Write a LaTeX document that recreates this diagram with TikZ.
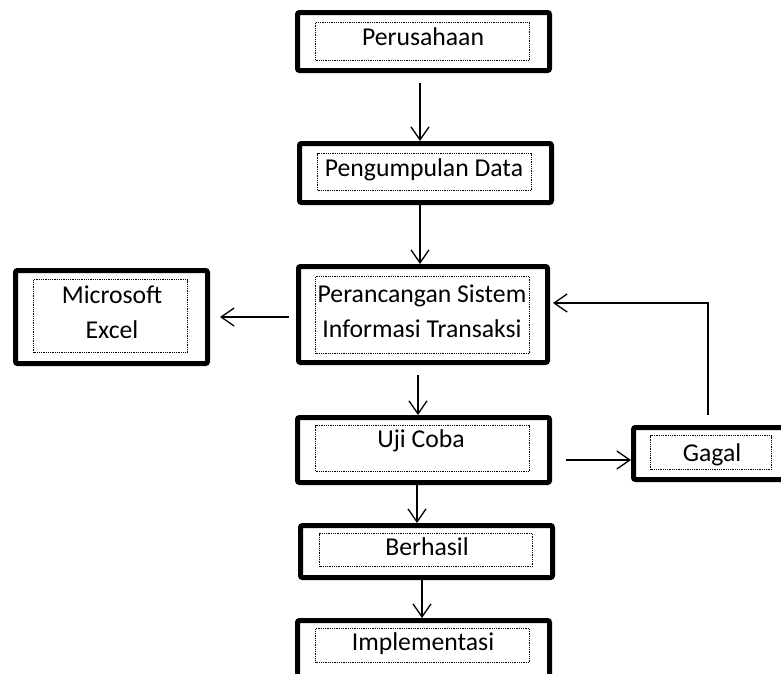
\documentclass[tikz,border=0pt]{standalone}
\usepackage{fontspec}
\setmainfont{Carlito}
\usetikzlibrary{arrows.meta,fit,calc}
\begin{document}
\begin{tikzpicture}[x=1pt,y=-1pt,
  outerbox/.style={draw=black, line width=5pt, rounded corners=2pt, inner sep=0pt},
  innerbox/.style={draw=black, line width=1.1pt, dash pattern=on 1pt off 0.8pt, inner sep=0pt},
  txt/.style={font=\fontsize{25.7}{35}\selectfont, anchor=base, inner sep=0pt, align=center, text=black},
  conn/.style={draw=black, line width=1.3pt, -{Straight Barb[length=13pt,width=18pt,line width=1.3pt]}}
]
\useasboundingbox (0,0) rectangle (781,673);
\clip (0,0) rectangle (781,673);

% outer boxes
\node[outerbox, fit={(297.5,12.5) (549.5,70.5)}] (per) {};
\node[outerbox, fit={(299.5,143.5) (551.5,202.5)}] (peng) {};
\node[outerbox, fit={(298.5,266.5) (547.5,362.5)}] (peran) {};
\node[outerbox, fit={(15.5,270.5) (207.5,363.5)}] (excel) {};
\node[outerbox, fit={(297.5,417.5) (549.5,482.5)}] (uji) {};
\node[outerbox, fit={(633.5,427.5) (800,479.5)}] (gagal) {};
\node[outerbox, fit={(300.5,525.5) (552.5,577.5)}] (berh) {};
\node[outerbox, fit={(297.5,620.5) (549.5,700)}] (impl) {};

% inner dotted boxes
\node[innerbox, fit={(315.5,22.5) (529.5,60.5)}] (perin) {};
\node[innerbox, fit={(317.5,153.5) (531.5,190.5)}] (pengin) {};
\node[innerbox, fit={(315.5,276.5) (529.5,353.5)}] (peranin) {};
\node[innerbox, fit={(33.5,279.5) (187.5,352.5)}] (excelin) {};
\node[innerbox, fit={(315.5,425.5) (529.5,471.5)}] (ujiin) {};
\node[innerbox, fit={(650.5,435.5) (771.5,469.5)}] (gagalin) {};
\node[innerbox, fit={(319.5,533.5) (532.5,566.5)}] (berhin) {};
\node[innerbox, fit={(315.5,628.5) (529.5,662.5)}] (implin) {};

% texts
\node[txt] (tper) at (423,45) {Perusahaan};
\node[txt] (tpeng) at (424,176) {Pengumpulan Data};
\node[txt] (tperan) at (422,337) {Perancangan Sistem\\Informasi Transaksi};
\node[txt] (texcel) at (112,338) {Microsoft\\Excel};
\node[txt] (tuji) at (421,447) {Uji Coba};
\node[txt] (tgagal) at (712,461) {Gagal};
\node[txt] (tberh) at (427,555) {Berhasil};
\node[txt] (timpl) at (423,650) {Implementasi};

% connectors
\draw[conn] ($(per.south)+(-3.5,10)$) -- ($(peng.north)+(-5.5,0)$);
\draw[conn] ($(peng.south)+(-5.5,0)$) -- ($(peran.north)+(-3,0)$);
\draw[conn] ($(peran.west)+(-7,2.5)$) -- ($(excel.east)+(10,0)$);
\draw[conn] ($(peran.south)+(-5,10)$) -- ($(uji.north)+(-5.5,0)$);
\draw[conn] ($(uji.east)+(14,10)$) -- ($(gagal.west)+(0,6.5)$);
\draw[conn] ($(gagal.north west)+(77,-10)$) |- ($(peran.east)+(3,-11.5)$);
\draw[conn] ($(uji.south)+(-6.5,0)$) -- ($(berh.north)+(-9.5,0)$);
\draw[conn] ($(berh.south)+(-4.5,0)$) -- ($(impl.north)+(-1.5,0)$);
\end{tikzpicture}
\end{document}
